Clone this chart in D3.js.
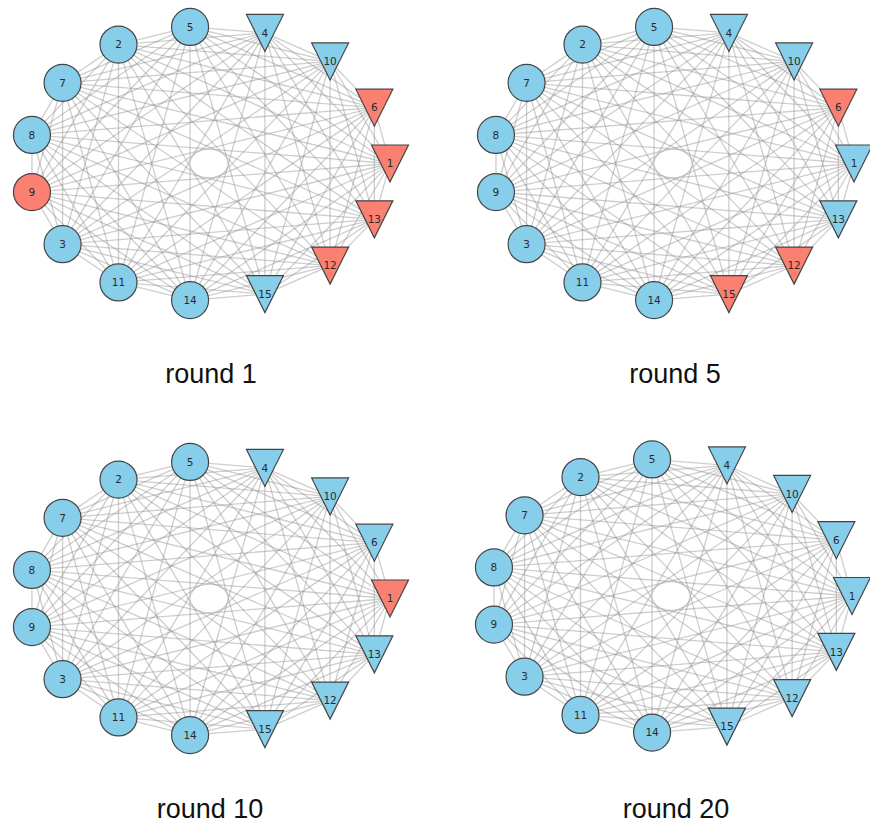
<!DOCTYPE html>
<html>
<head>
<meta charset="utf-8">
<script src="https://cdn.jsdelivr.net/npm/d3@7"></script>
<style>
  body { margin: 0; background: #fff; }
  svg { display: block; }
</style>
</head>
<body>
<div id="chart-area"></div>
<script>
// Nodes in the order they sit around the circle, starting at the right (angle 0) and going anticlockwise
const nodeOrder = [1, 6, 10, 4, 5, 2, 7, 8, 9, 3, 11, 14, 15, 12, 13];
// Nodes drawn as down-pointing triangles, the rest are circles
const triangleNodes = [1, 6, 10, 4, 15, 12, 13];
// Which round each panel shows, and which nodes are red in it
const rounds = [1, 5, 10, 20];
const redNodes = [
  [9, 6, 1, 13, 12],
  [6, 12, 15],
  [1],
  []
];

const width = 870;
const height = 829;
const nodeSize = 37;
const rx = 181;
const ry = 137.3;
// panel centres and title positions
const panels = [
  { cx: 209, cy: 163.5, tx: 211, ty: 383 },
  { cx: 673, cy: 163.5, tx: 675, ty: 383 },
  { cx: 209, cy: 598.5, tx: 210, ty: 818 },
  { cx: 671, cy: 596, tx: 676, ty: 818 }
];

const color = d3.scaleOrdinal()
  .domain(['red', 'blue'])
  .range(['#fa8072', '#87ceeb']);

const svg = d3.select('#chart-area')
  .append('svg')
  .attr('width', width)
  .attr('height', height);

// every node is linked to every other node
const links = [];
nodeOrder.forEach((a, i) => {
  nodeOrder.forEach((b, j) => {
    if (j > i) links.push([a, b]);
  });
});

const angle = d3.scaleLinear()
  .domain([0, nodeOrder.length])
  .range([0, 2 * Math.PI]);

const triangle = d3.symbol().type({
  draw(context, size) {
    const h = size / 2;
    context.moveTo(-h, -h);
    context.lineTo(h, -h);
    context.lineTo(0, h);
    context.closePath();
  }
}).size(nodeSize);

panels.forEach((panel, p) => {
  const x = d3.scaleLinear().domain([-1, 1]).range([panel.cx - rx, panel.cx + rx]);
  const y = d3.scaleLinear().domain([-1, 1]).range([panel.cy + ry, panel.cy - ry]);

  const pos = {};
  nodeOrder.forEach((n, i) => {
    const a = angle(i);
    pos[n] = [x(Math.cos(a)), y(Math.sin(a))];
  });

  const g = svg.append('g');

  g.append('g')
    .selectAll('line')
    .data(links)
    .join('line')
    .attr('x1', (d) => pos[d[0]][0])
    .attr('y1', (d) => pos[d[0]][1])
    .attr('x2', (d) => pos[d[1]][0])
    .attr('y2', (d) => pos[d[1]][1])
    .attr('stroke', '#8a8a8a')
    .attr('stroke-opacity', 0.42)
    .attr('stroke-width', 1.3);

  const nodes = g.append('g')
    .selectAll('g')
    .data(nodeOrder)
    .join('g')
    .attr('transform', (n) => `translate(${pos[n][0]}, ${pos[n][1]})`);

  const fill = (n) => color(redNodes[p].includes(n) ? 'red' : 'blue');

  nodes.filter((n) => !triangleNodes.includes(n))
    .append('circle')
    .attr('r', nodeSize / 2)
    .attr('fill', fill)
    .attr('stroke', '#444')
    .attr('stroke-width', 1.2);

  nodes.filter((n) => triangleNodes.includes(n))
    .append('path')
    .attr('d', triangle)
    .attr('fill', fill)
    .attr('stroke', '#444')
    .attr('stroke-width', 1.2);

  nodes.append('text')
    .attr('text-anchor', 'middle')
    .attr('dy', '0.36em')
    .attr('font-family', 'DejaVu Sans, sans-serif')
    .attr('font-size', '10.5px')
    .attr('fill', '#2b2b2b')
    .text((n) => n);

  svg.append('text')
    .attr('x', panel.tx)
    .attr('y', panel.ty)
    .attr('text-anchor', 'middle')
    .attr('font-family', 'Liberation Sans, Arial, sans-serif')
    .attr('font-size', '27px')
    .attr('fill', '#111')
    .text(`round ${rounds[p]}`);
});
</script>
</body>
</html>
